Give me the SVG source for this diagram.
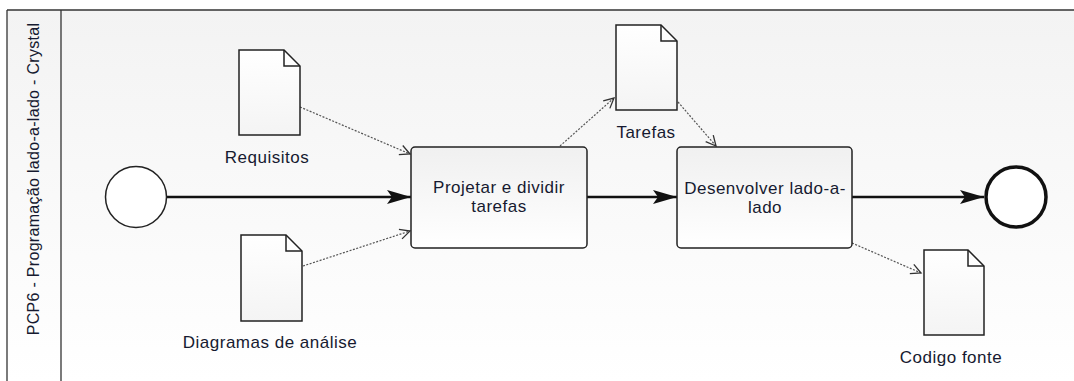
<svg xmlns="http://www.w3.org/2000/svg" width="1074" height="381" viewBox="0 0 1074 381">
  <style>
    .lbl { font-family: "Liberation Sans", Arial, sans-serif; font-size: 17px; letter-spacing: 0.5px; fill: #161a30; text-anchor: middle; }
    .lane { font-family: "Liberation Sans", Arial, sans-serif; font-size: 16px; letter-spacing: 0.3px; fill: #161a30; text-anchor: middle; }
    .task { fill: url(#taskFill); stroke: #222; stroke-width: 1.5; }
    .doc { fill: url(#docFill); stroke: #222; stroke-width: 1.5; stroke-linejoin: miter; }
    .fold { fill: none; stroke: #222; stroke-width: 1.5; }
    .seq { fill: none; stroke: #111; stroke-width: 2.5; marker-end: url(#seqArrow); }
    .assoc { fill: none; stroke: #555; stroke-width: 1.2; stroke-dasharray: 2 1.5; marker-end: url(#openArrow); }
  </style>
  <defs>
    <linearGradient id="poolFill" x1="0" y1="0" x2="0" y2="1">
      <stop offset="0" stop-color="#f3f3f3"/>
      <stop offset="1" stop-color="#ffffff"/>
    </linearGradient>
    <linearGradient id="taskFill" x1="0" y1="0" x2="0" y2="1">
      <stop offset="0" stop-color="#f0f0f0"/>
      <stop offset="1" stop-color="#ffffff"/>
    </linearGradient>
    <linearGradient id="docFill" x1="0" y1="0" x2="0" y2="1">
      <stop offset="0" stop-color="#ffffff"/>
      <stop offset="1" stop-color="#f4f4f4"/>
    </linearGradient>
    <marker id="seqArrow" markerUnits="userSpaceOnUse" markerWidth="26" markerHeight="16" refX="24" refY="7" orient="auto">
      <path d="M0,0 L24,7 L0,14 L5,7 Z" fill="#111"/>
    </marker>
    <marker id="openArrow" markerUnits="userSpaceOnUse" markerWidth="14" markerHeight="14" refX="11" refY="6" orient="auto">
      <path d="M1,1 L11,6 L1,11" fill="none" stroke="#333" stroke-width="1.3"/>
    </marker>
  </defs>

  <!-- pool with its single lane -->
  <g id="pool">
    <rect x="0" y="0" width="1074" height="381" fill="#ffffff"/>
    <rect x="7" y="10" width="1067" height="371" fill="url(#poolFill)"/>
    <line x1="7" y1="10" x2="1074" y2="10" stroke="#333" stroke-width="1.6"/>
    <line x1="7" y1="10" x2="7" y2="381" stroke="#333" stroke-width="1.3"/>
    <line x1="61" y1="10" x2="61" y2="381" stroke="#333" stroke-width="1.3"/>
    <text class="lane" transform="translate(39,179) rotate(-90)">PCP6 - Programação lado-a-lado - Crystal</text>
  </g>

  <!-- connectors -->
  <g id="connectors">
    <line class="seq" x1="167" y1="197" x2="411" y2="197"/>
    <line class="seq" x1="587" y1="197" x2="677" y2="197"/>
    <line class="seq" x1="852" y1="197" x2="984" y2="197"/>
    <line class="assoc" x1="300" y1="107" x2="410" y2="154"/>
    <line class="assoc" x1="303" y1="266" x2="410" y2="231"/>
    <line class="assoc" x1="560" y1="146" x2="614" y2="98"/>
    <line class="assoc" x1="678" y1="102" x2="716" y2="146"/>
    <line class="assoc" x1="852" y1="243" x2="921" y2="273"/>
  </g>

  <g id="start">
    <circle cx="136" cy="197" r="30.5" fill="#ffffff" stroke="#222" stroke-width="1.5"/>
  </g>

  <g id="end">
    <circle cx="1016" cy="197" r="30" fill="#ffffff" stroke="#111" stroke-width="3.5"/>
  </g>

  <g id="task-projetar">
    <rect class="task" x="411" y="147" width="176" height="101" rx="4"/>
    <text class="lbl" x="499" y="193">Projetar e dividir</text>
    <text class="lbl" x="499" y="212">tarefas</text>
  </g>

  <g id="task-desenvolver">
    <rect class="task" x="677" y="147" width="175" height="101" rx="4"/>
    <text class="lbl" x="765" y="194">Desenvolver lado-a-</text>
    <text class="lbl" x="765" y="213">lado</text>
  </g>

  <g id="doc-requisitos">
    <path class="doc" d="M239,50 H284 L300,66 V135 H239 Z"/>
    <path class="fold" d="M284,50 V66 H300"/>
    <text class="lbl" x="267" y="163">Requisitos</text>
  </g>

  <g id="doc-diagramas">
    <path class="doc" d="M241,235 H286 L302,251 V321 H241 Z"/>
    <path class="fold" d="M286,235 V251 H302"/>
    <text class="lbl" x="270" y="348">Diagramas de análise</text>
  </g>

  <g id="doc-tarefas">
    <path class="doc" d="M616,25 H661 L677,41 V110 H616 Z"/>
    <path class="fold" d="M661,25 V41 H677"/>
    <text class="lbl" x="646" y="138">Tarefas</text>
  </g>

  <g id="doc-codigo">
    <path class="doc" d="M924,250 H968 L984,266 V335 H924 Z"/>
    <path class="fold" d="M968,250 V266 H984"/>
    <text class="lbl" x="951" y="363">Codigo fonte</text>
  </g>
</svg>
